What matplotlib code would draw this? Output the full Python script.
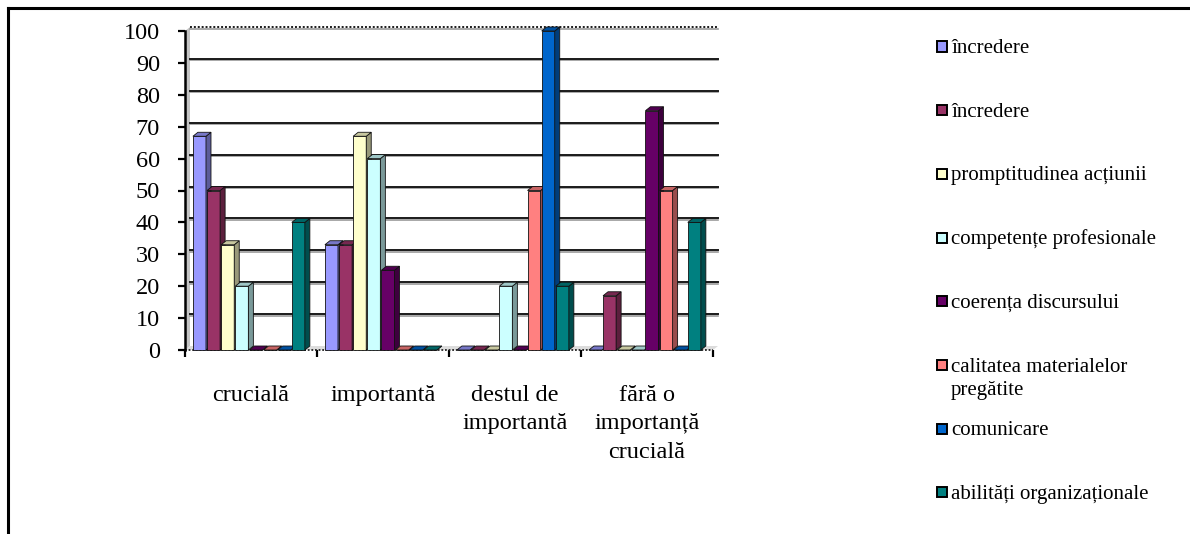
import matplotlib
matplotlib.use("Agg")
import matplotlib.pyplot as plt
from matplotlib.patches import Polygon, Rectangle
from matplotlib.lines import Line2D
from matplotlib import colors as mcolors
import numpy as np

# ---- data -------------------------------------------------------------
categories = ["crucială", "importantă", "destul de\nimportantă", "fără o\nimportanță\ncrucială"]

series_names = [
    "încredere",
    "încredere",
    "promptitudinea acțiunii",
    "competențe profesionale",
    "coerența discursului",
    "calitatea materialelor\npregătite",
    "comunicare",
    "abilități organizaționale",
]

incredere_a = [67, 33, 0, 0]
incredere_b = [50, 33, 0, 17]
promptitudine = [33, 67, 0, 0]
competente = [20, 60, 20, 0]
coerenta = [0, 25, 0, 75]
calitatea = [0, 0, 50, 50]
comunicare = [0, 0, 100, 0]
abilitati = [40, 0, 20, 40]

series_values = [incredere_a, incredere_b, promptitudine, competente,
                 coerenta, calitatea, comunicare, abilitati]

series_colors = ["#9999FF", "#993366", "#FFFFCC", "#CCFFFF",
                 "#660066", "#FF8080", "#0066CC", "#008080"]

y_ticks = list(range(0, 101, 10))

# ---- figure -----------------------------------------------------------
W, H = 1190, 534
fig = plt.figure(figsize=(W / 100, H / 100), dpi=100)
plt.rcParams["font.family"] = ["Liberation Serif", "DejaVu Serif"]

ax = fig.add_axes([185 / W, 1 - 350 / H, (713 - 185) / W, (350 - 31) / H])
ax.set_xlim(0, len(categories))
ax.set_ylim(0, 100)
ax.patch.set_visible(False)

# depth of the pseudo-3D extrusion, in pixels, converted to data units
depth_px_x, depth_px_y = 5.0, 4.0
pos = ax.get_position()
dxd = depth_px_x / (pos.width * W) * len(categories)
dyd = depth_px_y / (pos.height * H) * 100

ncat = len(categories)

# side wall and floor
ax.add_patch(Polygon([(0, 0), (dxd, dyd), (dxd, 100 + dyd), (0, 100)],
                     closed=True, facecolor="#c4c4c4", edgecolor="none",
                     zorder=1, clip_on=False))
ax.add_patch(Polygon([(0, 0), (ncat, 0), (ncat + dxd, dyd), (dxd, dyd)],
                     closed=True, facecolor="#dcdcdc", edgecolor="none",
                     zorder=1, clip_on=False))

# gridlines on the back wall
for v in y_ticks[1:]:
    ls = (0, (1, 1)) if v == 100 else "-"
    ax.add_line(Line2D([dxd, ncat + dxd], [v + dyd - 0.5, v + dyd - 0.5],
                       color="#9a9a9a", lw=1.2, zorder=1.5, clip_on=False))
    ax.add_line(Line2D([dxd, ncat + dxd], [v + dyd, v + dyd],
                       color="#1a1a1a", lw=1.4, linestyle=ls, zorder=1.6,
                       clip_on=False))

# front edge of the floor
ax.add_line(Line2D([0, ncat], [0, 0], color="#222222", lw=1.3,
                   linestyle=(0, (1, 1)), zorder=2, clip_on=False))


def shade(color, f):
    r, g, b = mcolors.to_rgb(color)
    return (r * f, g * f, b * f)


# bars
bar_w = 0.099
pitch = 0.107
start = 0.06
for s, (vals, col) in enumerate(zip(series_values, series_colors)):
    z = 3 + s * 0.01
    xs = np.arange(ncat) + start + s * pitch
    ax.bar(xs, vals, width=bar_w, align="edge", color=col,
           edgecolor="#111111", linewidth=0.6, zorder=z, clip_on=False)
    for x0, v in zip(xs, vals):
        x1 = x0 + bar_w
        side = Polygon([(x1, 0), (x1 + dxd, dyd), (x1 + dxd, v + dyd), (x1, v)],
                       closed=True, facecolor=shade(col, 0.6),
                       edgecolor="#111111", linewidth=0.6, zorder=z,
                       clip_on=False)
        top = Polygon([(x0, v), (x1, v), (x1 + dxd, v + dyd), (x0 + dxd, v + dyd)],
                      closed=True, facecolor=shade(col, 0.78),
                      edgecolor="#111111", linewidth=0.6, zorder=z,
                      clip_on=False)
        ax.add_patch(side)
        ax.add_patch(top)

# axes styling
for sp in ("top", "right", "bottom"):
    ax.spines[sp].set_visible(False)
ax.spines["left"].set_color("black")
ax.spines["left"].set_linewidth(1.8)
ax.spines["left"].set_zorder(2)

ax.set_yticks(y_ticks)
ax.tick_params(axis="y", direction="out", length=5, width=1.6,
               labelsize=17.5, pad=13)

ax.set_xticks(range(ncat + 1))
ax.set_xticklabels([])
ax.tick_params(axis="x", which="major", direction="out", length=5,
               width=1.6)
ax.set_xticks(np.arange(ncat) + 0.5, minor=True)
ax.set_xticklabels(categories, minor=True)
ax.tick_params(axis="x", which="minor", length=0, labelsize=17.5, pad=25)
for t in ax.get_xticklabels(minor=True):
    t.set_linespacing(1.47)

# legend, one text line at a time so the marker sits beside the first line
lx_box, lx_text = 937, 951
ly0, lpitch = 46.5, 63.7
line_px = 23
box = 10
for i, (name, col) in enumerate(zip(series_names, series_colors)):
    yc = ly0 + i * lpitch
    fig.patches.append(Rectangle((lx_box / W, 1 - (yc + box / 2) / H),
                                 box / W, box / H, transform=fig.transFigure,
                                 facecolor=col, edgecolor="black",
                                 linewidth=1.4))
    for j, line in enumerate(name.split("\n")):
        fig.text(lx_text / W, 1 - (yc + 6.5 + j * line_px) / H, line,
                 fontsize=15, va="baseline", ha="left")

# chart frame
fig.add_artist(Line2D([8 / W, 1.0], [1 - 8 / H, 1 - 8 / H],
                      transform=fig.transFigure, color="black", lw=2.2))
fig.add_artist(Line2D([8 / W, 8 / W], [0, 1 - 8 / H],
                      transform=fig.transFigure, color="black", lw=2.2))

fig.savefig("out.png", dpi=100, facecolor="white")
